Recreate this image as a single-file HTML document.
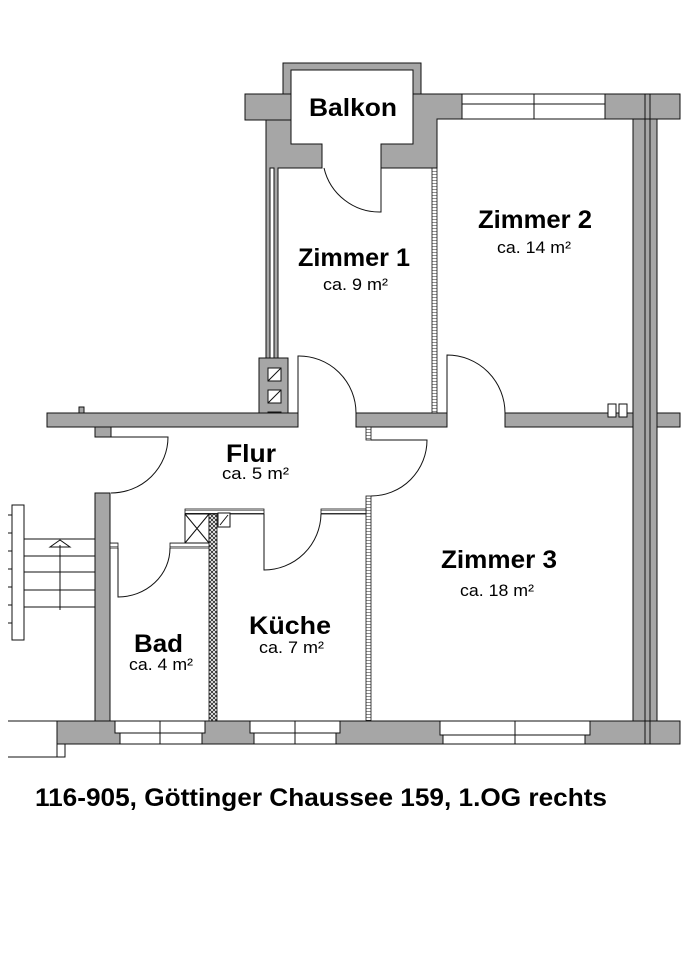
<!DOCTYPE html>
<html><head><meta charset="utf-8"><style>
html,body{margin:0;padding:0;background:#fff}
svg{display:block}
.w{fill:#a6a6a6;stroke:#111;stroke-width:1}
.l{fill:none;stroke:#111;stroke-width:1}
.h{fill:#fff;stroke:#111;stroke-width:1}
text{font-family:"Liberation Sans",sans-serif;fill:#000}
.b{font-weight:bold;font-size:25px}
.s{font-size:17px}
</style></head><body>
<svg width="683" height="960" viewBox="0 0 683 960" xmlns="http://www.w3.org/2000/svg">
<defs>
<pattern id="hat" width="4" height="4" patternUnits="userSpaceOnUse"><rect width="4" height="4" fill="#fff"/><path d="M0 0L4 4M4 0L0 4" stroke="#222" stroke-width="0.8"/></pattern>
<pattern id="lad" width="5" height="3" patternUnits="userSpaceOnUse"><rect width="5" height="3" fill="#fff"/><path d="M0 0H5" stroke="#222" stroke-width="1"/></pattern>
</defs>
<path class="w" d="M283 63H421V144H413V70H291V144H283Z"/>
<rect class="w" x="245" y="94" width="46" height="26"/>
<path class="w" d="M266 120H291V144H322V168H278V358H266Z"/>
<path class="w" d="M413 94H462V119H437V168H381V144H413Z"/>
<rect class="h" x="462" y="94" width="143" height="25"/>
<line class="l" x1="462" y1="104" x2="605" y2="104"/><line class="l" x1="534" y1="94" x2="534" y2="119"/>
<rect class="w" x="605" y="94" width="75" height="25"/>
<rect class="w" x="633" y="119" width="24" height="602"/>
<line class="l" x1="645" y1="94" x2="645" y2="744"/><line class="l" x1="650" y1="94" x2="650" y2="744"/>
<rect class="h" x="270" y="168" width="4" height="190"/>
<rect x="432" y="168" width="5" height="245" fill="url(#lad)" stroke="#111" stroke-width="0.8"/>
<rect class="w" x="259" y="358" width="29" height="69"/>
<g class="h"><rect x="268" y="368" width="13" height="13"/><rect x="268" y="390" width="13" height="13"/><rect x="268" y="412" width="13" height="13"/></g>
<path class="l" d="M268 381L281 368M268 403L281 390M268 425L281 412"/>
<rect class="w" x="47" y="413" width="251" height="14"/>
<rect class="w" x="79" y="407" width="5" height="6"/>
<rect class="w" x="95" y="427" width="16" height="10"/>
<rect class="w" x="356" y="413" width="91" height="14"/>
<rect class="w" x="505" y="413" width="128" height="14"/>
<rect class="w" x="657" y="413" width="23" height="14"/>
<g class="h"><rect x="608" y="404" width="8" height="13"/><rect x="619" y="404" width="8" height="13"/></g>
<path class="l" d="M298 413V356A57 57 0 0 1 356 413"/>
<path class="l" d="M447 413V355A58 58 0 0 1 505 413"/>
<path class="l" d="M381 168V212A57 57 0 0 1 324 168"/>
<path class="l" d="M111 437H168A57 56 0 0 1 111 493"/>
<rect x="366" y="427" width="5" height="13" fill="url(#lad)" stroke="#111" stroke-width="0.8"/>
<path class="l" d="M371 440H427A56 56 0 0 1 371 496"/>
<rect x="366" y="496" width="5" height="225" fill="url(#lad)" stroke="#111" stroke-width="0.8"/>
<rect x="185" y="509" width="79" height="5" fill="url(#lad)" stroke="#111" stroke-width="0.8"/>
<rect x="321" y="509" width="45" height="5" fill="url(#lad)" stroke="#111" stroke-width="0.8"/>
<path class="l" d="M264 514V570A57 57 0 0 0 321 514"/>
<rect class="h" x="185" y="514" width="24" height="29"/>
<path class="l" d="M185 514L209 543M209 514L185 543"/>
<rect x="209" y="514" width="8" height="207" fill="url(#hat)" stroke="#111" stroke-width="0.8"/>
<rect class="h" x="218" y="513" width="12" height="14"/><path class="l" d="M220 525L228 515"/>
<rect class="w" x="95" y="493" width="15" height="228"/>
<rect x="110" y="543" width="8" height="5" fill="url(#lad)" stroke="#111" stroke-width="0.8"/>
<rect x="170" y="543" width="39" height="5" fill="url(#lad)" stroke="#111" stroke-width="0.8"/>
<path class="l" d="M118 548V597A52 49 0 0 0 170 548"/>
<rect class="h" x="12" y="505" width="12" height="135"/>
<path class="l" d="M24 539H95M24 556H95M24 572H95M24 590H95M24 607H95M60 545V610M8 515H12M8 533H12M8 551H12M8 569H12M8 587H12M8 605H12M8 623H12"/>
<path class="l" d="M50 547L60 540L70 547Z"/>
<path class="w" d="M57 721H680V744H57Z"/>
<path class="l" d="M8 721H95M8 757H65M57 744V757H65V744"/>
<g>
<rect class="h" x="115" y="721" width="90" height="12"/><rect class="h" x="120" y="733" width="82" height="11"/><line class="l" x1="160" y1="721" x2="160" y2="744"/>
<rect class="h" x="250" y="721" width="90" height="12"/><rect class="h" x="254" y="733" width="82" height="11"/><line class="l" x1="295" y1="721" x2="295" y2="744"/>
<rect class="h" x="440" y="721" width="150" height="14"/><rect class="h" x="443" y="735" width="142" height="9"/><line class="l" x1="515" y1="721" x2="515" y2="744"/>
</g>
<line class="l" x1="645" y1="721" x2="645" y2="744"/><line class="l" x1="650" y1="721" x2="650" y2="744"/>
<text class="b" x="309" y="116" textLength="88" lengthAdjust="spacingAndGlyphs">Balkon</text>
<text class="b" x="298" y="266" textLength="112" lengthAdjust="spacingAndGlyphs">Zimmer 1</text>
<text class="s" x="323" y="290" textLength="65" lengthAdjust="spacingAndGlyphs">ca. 9 m²</text>
<text class="b" x="478" y="228" textLength="114" lengthAdjust="spacingAndGlyphs">Zimmer 2</text>
<text class="s" x="497" y="253" textLength="74" lengthAdjust="spacingAndGlyphs">ca. 14 m²</text>
<text class="b" x="226" y="462" textLength="50" lengthAdjust="spacingAndGlyphs">Flur</text>
<text class="s" x="222" y="479" textLength="67" lengthAdjust="spacingAndGlyphs">ca. 5 m²</text>
<text class="b" x="441" y="568" textLength="116" lengthAdjust="spacingAndGlyphs">Zimmer 3</text>
<text class="s" x="460" y="596" textLength="74" lengthAdjust="spacingAndGlyphs">ca. 18 m²</text>
<text class="b" x="249" y="634" textLength="82" lengthAdjust="spacingAndGlyphs">Küche</text>
<text class="s" x="259" y="653" textLength="65" lengthAdjust="spacingAndGlyphs">ca. 7 m²</text>
<text class="b" x="134" y="652" textLength="49" lengthAdjust="spacingAndGlyphs">Bad</text>
<text class="s" x="129" y="670" textLength="64" lengthAdjust="spacingAndGlyphs">ca. 4 m²</text>
<text x="35" y="806" style="font-weight:bold;font-size:25px" textLength="572" lengthAdjust="spacingAndGlyphs">116-905, Göttinger Chaussee 159, 1.OG rechts</text>
</svg>
</body></html>
